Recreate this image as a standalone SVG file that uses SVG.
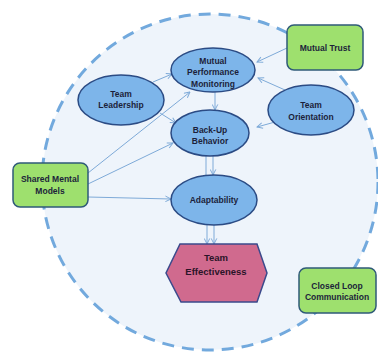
<svg xmlns="http://www.w3.org/2000/svg" width="378" height="352" viewBox="0 0 378 352">
<defs>
<style>
.ell{fill:#7db5ea;stroke:#2b4b84;stroke-width:1.5}
.box{fill:#9ee06e;stroke:#2f5a78;stroke-width:1.5}
.hex{fill:#d06a8e;stroke:#3b4a8c;stroke-width:1.5}
.t{font-family:"Liberation Sans",Arial,sans-serif;font-weight:bold;font-size:8.5px;fill:#1c1f3a;text-anchor:middle}
.c{stroke:#7eaad8;stroke-width:1;fill:none;marker-end:url(#ah)}
.cn{stroke:#7eaad8;stroke-width:1;fill:none}
</style>
<marker id="ah" viewBox="0 0 10 10" refX="9" refY="5" markerWidth="7" markerHeight="7" orient="auto" markerUnits="userSpaceOnUse">
<path d="M1,1 L9,5 L1,9" fill="none" stroke="#7eaad8" stroke-width="1.4"/>
</marker>
</defs>
<rect width="378" height="352" fill="#ffffff"/>
<circle cx="210" cy="182" r="168" fill="#eef4fb" stroke="#72a9dd" stroke-width="3" stroke-dasharray="12 8"/>
<g id="connectors">
<line class="c" x1="287" y1="48" x2="257" y2="62"/>
<line class="c" x1="153" y1="82" x2="172" y2="74"/>
<line class="c" x1="160" y1="113" x2="176" y2="123"/>
<line class="c" x1="88" y1="173" x2="190" y2="92"/>
<line class="c" x1="88" y1="184" x2="173" y2="143"/>
<line class="c" x1="88" y1="197" x2="171" y2="199"/>
<line class="c" x1="215" y1="92" x2="215" y2="110"/>
<line class="c" x1="285" y1="90" x2="258" y2="78"/>
<line class="c" x1="275" y1="122" x2="257" y2="127"/>
<line class="cn" x1="206" y1="156" x2="206" y2="175"/>
<line class="c" x1="213" y1="156" x2="213" y2="175"/>
<line class="c" x1="207" y1="225" x2="207" y2="244"/>
<line class="c" x1="214" y1="225" x2="214" y2="244"/>
</g>
<g id="mpm">
<ellipse class="ell" cx="213" cy="70" rx="42" ry="22"/>
<text class="t" x="213" y="64">Mutual</text>
<text class="t" x="213" y="75">Performance</text>
<text class="t" x="213" y="87">Monitoring</text>
</g>
<g id="leadership">
<ellipse class="ell" cx="121" cy="100" rx="43" ry="25"/>
<text class="t" x="121" y="97">Team</text>
<text class="t" x="121" y="108">Leadership</text>
</g>
<g id="backup">
<ellipse class="ell" cx="210" cy="133" rx="39" ry="23"/>
<text class="t" x="210" y="133">Back-Up</text>
<text class="t" x="210" y="144">Behavior</text>
</g>
<g id="orientation">
<ellipse class="ell" cx="311" cy="110" rx="43" ry="25"/>
<text class="t" x="311" y="108">Team</text>
<text class="t" x="311" y="120">Orientation</text>
</g>
<g id="adaptability">
<ellipse class="ell" cx="214" cy="200" rx="43" ry="25"/>
<text class="t" x="214" y="203">Adaptability</text>
</g>
<g id="trust">
<rect class="box" x="287" y="25" width="76" height="45" rx="7"/>
<text class="t" x="325" y="51">Mutual Trust</text>
</g>
<g id="smm">
<rect class="box" x="13" y="163" width="75" height="44" rx="7"/>
<text class="t" x="50" y="182">Shared Mental</text>
<text class="t" x="50" y="194">Models</text>
</g>
<g id="closedloop">
<rect class="box" x="299" y="268" width="77" height="45" rx="7"/>
<text class="t" x="337" y="289">Closed Loop</text>
<text class="t" x="337" y="300">Communication</text>
</g>
<g id="effectiveness">
<polygon class="hex" points="180,244 257,244 267,273 257,302 181,302 166,273"/>
<text class="t" x="216" y="261" style="font-size:9.5px;fill:#2a1428">Team</text>
<text class="t" x="216" y="275" style="font-size:9.5px;fill:#2a1428">Effectiveness</text>
</g>
</svg>
